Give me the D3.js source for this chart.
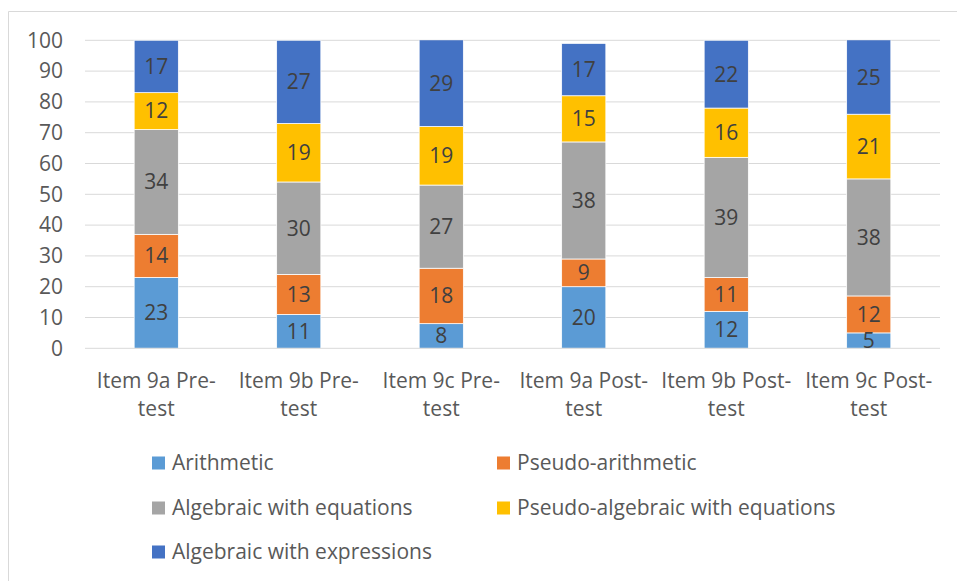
<!DOCTYPE html>
<html>
<head>
<meta charset="utf-8">
<script src="https://cdn.jsdelivr.net/npm/d3@7"></script>
<style>
  html, body { margin: 0; padding: 0; background: #fff; }
  svg { display: block; }
  text { font-family: "Open Sans", "Noto Sans", sans-serif; }
</style>
</head>
<body>
<svg id="chart" width="957" height="581"></svg>
<script>
// Categories (two-line labels) and stacked series, in percent
const categories = [
  ["Item 9a Pre-", "test"],
  ["Item 9b Pre-", "test"],
  ["Item 9c Pre-", "test"],
  ["Item 9a Post-", "test"],
  ["Item 9b Post-", "test"],
  ["Item 9c Post-", "test"]
];
const seriesNames = [
  "Arithmetic",
  "Pseudo-arithmetic",
  "Algebraic with equations",
  "Pseudo-algebraic with equations",
  "Algebraic with expressions"
];
const arithmetic       = [23, 11, 8, 20, 12, 5];
const pseudoArithmetic = [14, 13, 18, 9, 11, 12];
const algEquations     = [34, 30, 27, 38, 39, 38];
const pseudoAlgEq      = [12, 19, 19, 15, 16, 21];
const algExpressions   = [17, 27, 29, 17, 22, 25];
const yTicks = [0, 10, 20, 30, 40, 50, 60, 70, 80, 90, 100];
const colors = ["#5B9BD5", "#ED7D31", "#A5A5A5", "#FFC000", "#4472C4"];

const seriesValues = [arithmetic, pseudoArithmetic, algEquations, pseudoAlgEq, algExpressions];
const rows = categories.map((c, i) => {
  const r = { key: i };
  seriesNames.forEach((s, j) => { r[s] = seriesValues[j][i]; });
  return r;
});

const svg = d3.select("#chart");
const plot = { left: 85, right: 940, top: 40.3, bottom: 348.3 };
const FONT = "'Open Sans', 'Noto Sans', sans-serif";
const FS = 21;

// Chart frame
svg.append("path")
  .attr("d", `M8.5,${581} L8.5,11.5 L957,11.5`)
  .attr("fill", "none").attr("stroke", "#D9D9D9").attr("stroke-width", 1);

const x = d3.scaleBand()
  .domain(rows.map(r => r.key))
  .range([plot.left, plot.right])
  .paddingInner(0.69)
  .paddingOuter(0.345);
const y = d3.scaleLinear().domain([0, 100]).range([plot.bottom, plot.top]);

// Gridlines
svg.append("g")
  .selectAll("line").data(yTicks.filter(t => t > 0)).join("line")
  .attr("x1", plot.left).attr("x2", plot.right)
  .attr("y1", d => y(d)).attr("y2", d => y(d))
  .attr("stroke", "#D9D9D9").attr("stroke-width", 1);

// Y axis labels
const yAxis = d3.axisLeft(y).tickValues(yTicks).tickSize(0).tickPadding(0);
const gy = svg.append("g").attr("transform", `translate(63,0)`).call(yAxis);
gy.select(".domain").remove();
gy.selectAll("text")
  .attr("fill", "#595959").attr("font-size", FS)
  .style("font-family", FONT);

// Stacked bars, clipped to the plot area
svg.append("clipPath").attr("id", "plotclip")
  .append("rect").attr("x", plot.left).attr("y", plot.top)
  .attr("width", plot.right - plot.left).attr("height", plot.bottom - plot.top);

const stacked = d3.stack().keys(seriesNames)(rows);
const bars = svg.append("g").attr("clip-path", "url(#plotclip)");
stacked.forEach((layer, j) => {
  bars.append("g").attr("fill", colors[j])
    .selectAll("rect").data(layer).join("rect")
    .attr("x", d => x(d.data.key))
    .attr("width", x.bandwidth())
    .attr("y", d => y(d[1]))
    .attr("height", d => y(d[0]) - y(d[1]))
    .attr("stroke", "#ffffff").attr("stroke-width", 0.75);
});

// Base axis line
svg.append("line")
  .attr("x1", plot.left).attr("x2", plot.right)
  .attr("y1", y(0)).attr("y2", y(0))
  .attr("stroke", "#D9D9D9").attr("stroke-width", 1);

// Data labels
const labels = svg.append("g");
stacked.forEach((layer, j) => {
  labels.selectAll(null).data(layer).join("text")
    .attr("x", d => x(d.data.key) + x.bandwidth() / 2)
    .attr("y", d => y((d[0] + Math.min(d[1], 100)) / 2))
    .attr("dy", "0.35em")
    .attr("text-anchor", "middle")
    .attr("font-size", FS)
    .attr("fill", "#404040")
    .text(d => d.data[seriesNames[j]]);
});

// Category labels
const xl = svg.append("g");
rows.forEach((r, i) => {
  const t = xl.append("text")
    .attr("x", x(r.key) + x.bandwidth() / 2)
    .attr("y", 388)
    .attr("text-anchor", "middle")
    .attr("font-size", FS)
    .attr("fill", "#595959");
  categories[i].forEach((line, k) => {
    t.append("tspan").attr("x", x(r.key) + x.bandwidth() / 2)
      .attr("dy", k === 0 ? 0 : 28).text(line);
  });
});

// Legend
const legendPos = [
  [152, 463], [497, 463],
  [152, 508], [497, 508],
  [152, 552]
];
const legend = svg.append("g");
seriesNames.forEach((s, j) => {
  const [lx, ly] = legendPos[j];
  legend.append("rect")
    .attr("x", lx).attr("y", ly - 6.5).attr("width", 13).attr("height", 13)
    .attr("fill", colors[j]);
  legend.append("text")
    .attr("x", lx + 20).attr("y", ly).attr("dy", "0.35em")
    .attr("font-size", FS).attr("fill", "#595959")
    .text(s);
});
</script>
</body>
</html>
